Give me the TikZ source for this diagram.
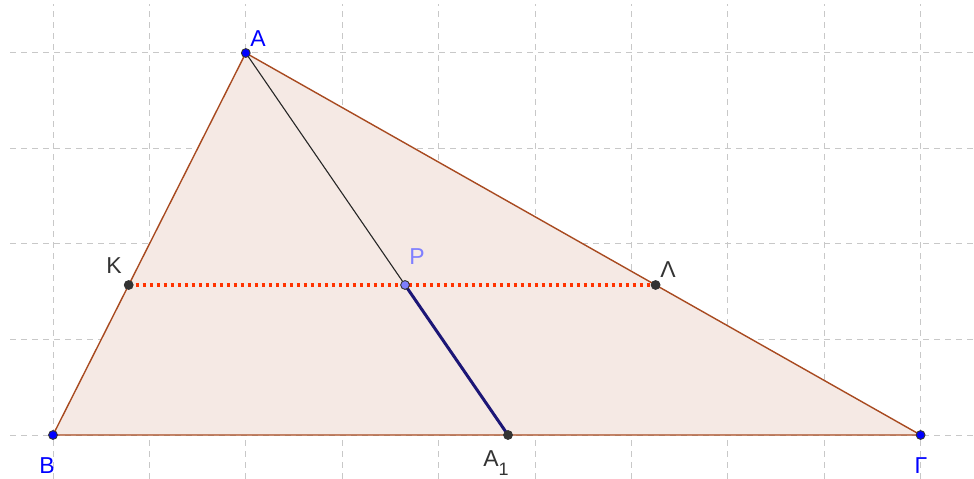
\documentclass[tikz,border=0pt]{standalone}
\usepackage{fontspec}
\setmainfont{Liberation Sans}
\usetikzlibrary{calc}
\definecolor{gridc}{RGB}{200,200,200}
\definecolor{edgec}{RGB}{168,74,32}
\definecolor{fillc}{RGB}{245,233,228}
\definecolor{dotc}{RGB}{255,51,0}
\definecolor{navyc}{RGB}{28,22,118}
\definecolor{ptblue}{RGB}{0,0,255}
\definecolor{ptgray}{RGB}{51,51,51}
\definecolor{ptlight}{RGB}{127,127,255}
\tikzset{
  gridline/.style={draw=gridc, line width=0.5pt, dash pattern=on 3pt off 2.5pt},
  edge/.style={draw=edgec, line width=0.7pt},
  pt/.style={circle, inner sep=0pt, minimum size=4.4pt, draw=black!80, line width=0.45pt},
  lbl/.style={anchor=base, inner sep=0pt, font=\fontsize{11.5}{13}\selectfont},
}
\begin{document}
\begin{tikzpicture}[x=48.2pt, y=47.75pt]
\useasboundingbox (-0.5498,-0.4503) rectangle (9.5539,4.555);
% grid
\foreach \i in {0,...,9} \draw[gridline] (\i,-0.46) -- (\i,4.51);
\foreach \j in {0,...,4} \draw[gridline] (-0.446,\j) -- (9.56,\j);
% coordinates
\coordinate (cB) at (0,0);
\coordinate (cA) at (2,4);
\coordinate (cG) at (9,0);
\coordinate (cA1) at (4.72,0);
\coordinate (cK) at ($(cB)!0.3927!(cA)$);
\coordinate (cL) at ($(cG)!0.3927!(cA)$);
\coordinate (cP) at ($(cA1)!0.3927!(cA)$);
% triangle
\fill[fillc] (cB) -- (cA) -- (cG) -- cycle;
\draw[edge] (cB) -- (cA) -- (cG) -- cycle;
% cevian
\draw[black!85, line width=0.55pt] (cA) -- (cP);
\draw[navyc, line width=1.5pt] (cP) -- (cA1);
% dotted
\draw[dotc, line width=1.6pt, dash pattern=on 1.6pt off 1.9pt] (cK) -- (cL);
% points
\node[pt, fill=ptblue] (A) at (cA) {};
\node[pt, fill=ptblue] (B) at (cB) {};
\node[pt, fill=ptblue] (G) at (cG) {};
\node[pt, fill=ptgray] (K) at (cK) {};
\node[pt, fill=ptgray] (L) at (cL) {};
\node[pt, fill=ptgray] (A1) at (cA1) {};
\node[pt, fill=ptlight, draw=ptgray] (P) at (cP) {};
% labels
\node[lbl, text=ptblue] (lA) at (2.127,4.069) {A};
\node[lbl, text=ptblue] (lB) at (-0.062,-0.398) {B};
\node[lbl, text=ptblue] (lG) at (9.004,-0.398) {Γ};
\node[lbl, text=ptgray] (lK) at (0.633,1.696) {K};
\node[lbl, text=ptgray] (lL) at (6.38,1.654) {Λ};
\node[lbl, text=ptlight] (lP) at (3.776,1.79) {P};
\node[lbl, text=ptgray, anchor=base west] (lA1) at (4.46,-0.335) {A\raisebox{-4.5pt}{\fontsize{9}{10}\selectfont 1}};
\end{tikzpicture}
\end{document}
